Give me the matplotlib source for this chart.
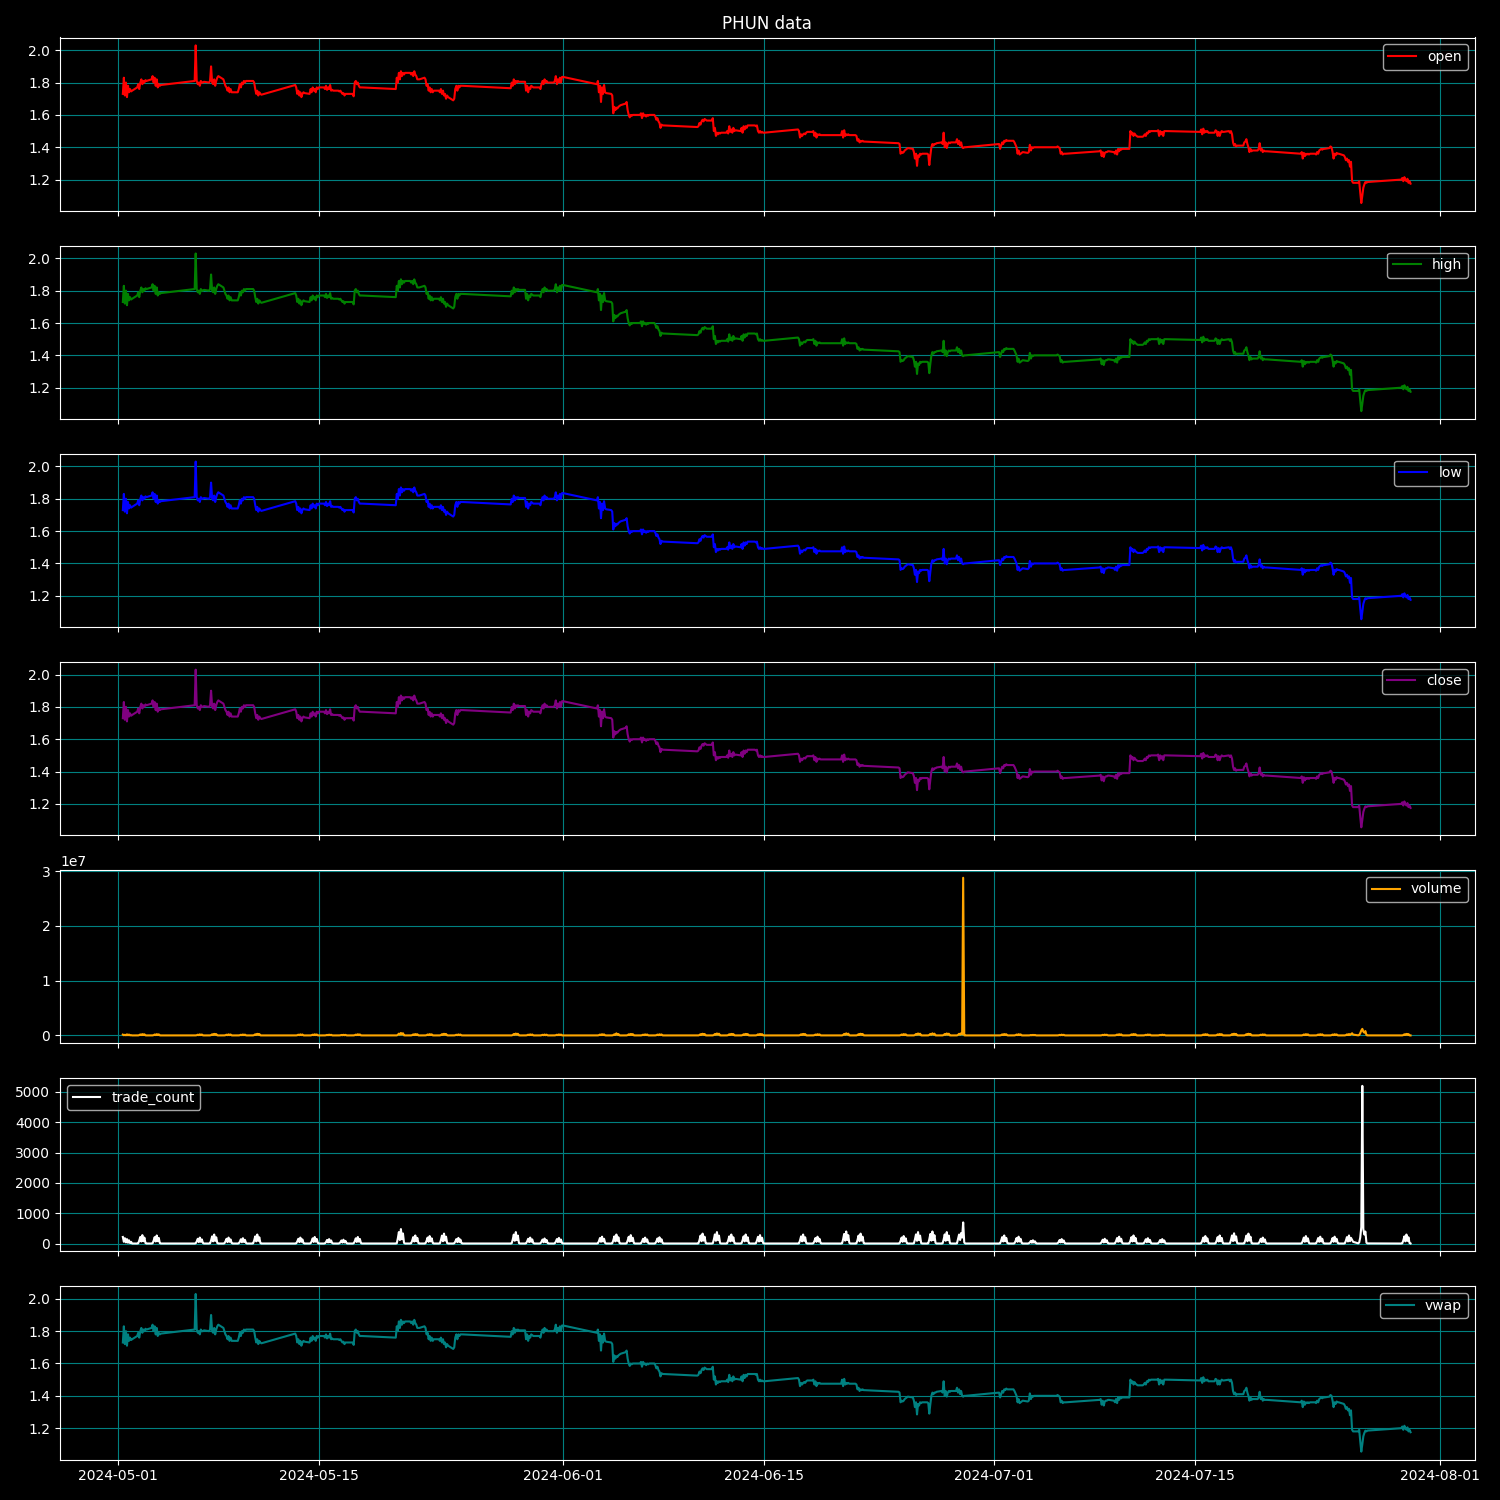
import numpy as np
import pandas as pd
import matplotlib
matplotlib.use("Agg")
import matplotlib.pyplot as plt

TITLE = "PHUN data"

trading_days = [
    "2024-05-01", "2024-05-02", "2024-05-03", "2024-05-06", "2024-05-07", "2024-05-08",
    "2024-05-09", "2024-05-10", "2024-05-13", "2024-05-14", "2024-05-15", "2024-05-16",
    "2024-05-17", "2024-05-20", "2024-05-21", "2024-05-22", "2024-05-23", "2024-05-24",
    "2024-05-28", "2024-05-29", "2024-05-30", "2024-05-31",
    "2024-06-03", "2024-06-04", "2024-06-05", "2024-06-06", "2024-06-07", "2024-06-10",
    "2024-06-11", "2024-06-12", "2024-06-13", "2024-06-14", "2024-06-17", "2024-06-18",
    "2024-06-20", "2024-06-21", "2024-06-24", "2024-06-25", "2024-06-26", "2024-06-27",
    "2024-06-28",
    "2024-07-01", "2024-07-02", "2024-07-03", "2024-07-05", "2024-07-08", "2024-07-09",
    "2024-07-10", "2024-07-11", "2024-07-12", "2024-07-15", "2024-07-16", "2024-07-17",
    "2024-07-18", "2024-07-19", "2024-07-22", "2024-07-23", "2024-07-24", "2024-07-25",
    "2024-07-26", "2024-07-29",
]

# intraday sample times (hours, UTC) of each day's bars
session_hours = [8.0, 9.7, 11.4, 13.2, 14.9, 16.6, 18.3, 20.0, 21.8, 23.5]

# visible x range of the shared date axis
x_range = ["2024-04-26 23:00", "2024-08-03 10:20"]

# price (open/high/low/close/vwap coincide at this scale)
price_by_day = [
    [1.73, 1.83, 1.72, 1.80, 1.71, 1.78, 1.74, 1.76, 1.745, 1.75],
    [1.77, 1.79, 1.76, 1.80, 1.82, 1.79, 1.81, 1.80, 1.815, 1.81],
    [1.82, 1.84, 1.80, 1.83, 1.78, 1.82, 1.77, 1.79, 1.78, 1.785],
    [1.81, 2.03, 1.81, 1.79, 1.80, 1.78, 1.81, 1.80, 1.80, 1.805],
    [1.80, 1.81, 1.90, 1.80, 1.79, 1.82, 1.78, 1.81, 1.83, 1.84],
    [1.82, 1.80, 1.78, 1.77, 1.75, 1.77, 1.74, 1.76, 1.74, 1.74],
    [1.74, 1.76, 1.79, 1.77, 1.80, 1.79, 1.81, 1.80, 1.81, 1.81],
    [1.81, 1.81, 1.80, 1.76, 1.73, 1.75, 1.72, 1.74, 1.73, 1.725],
    [1.785, 1.77, 1.73, 1.75, 1.72, 1.74, 1.71, 1.73, 1.74, 1.735],
    [1.73, 1.76, 1.74, 1.77, 1.75, 1.76, 1.74, 1.77, 1.76, 1.77],
    [1.77, 1.76, 1.78, 1.755, 1.77, 1.76, 1.785, 1.75, 1.755, 1.75],
    [1.75, 1.745, 1.75, 1.74, 1.73, 1.735, 1.72, 1.73, 1.73, 1.73],
    [1.73, 1.715, 1.80, 1.81, 1.79, 1.80, 1.78, 1.77, 1.77, 1.77],
    [1.76, 1.83, 1.80, 1.86, 1.82, 1.87, 1.84, 1.86, 1.85, 1.86],
    [1.86, 1.85, 1.86, 1.84, 1.87, 1.85, 1.84, 1.82, 1.82, 1.82],
    [1.83, 1.82, 1.78, 1.79, 1.75, 1.77, 1.74, 1.76, 1.74, 1.75],
    [1.75, 1.74, 1.76, 1.73, 1.75, 1.72, 1.73, 1.70, 1.72, 1.71],
    [1.69, 1.70, 1.76, 1.78, 1.75, 1.78, 1.77, 1.78, 1.78, 1.78],
    [1.765, 1.80, 1.78, 1.82, 1.79, 1.81, 1.80, 1.81, 1.805, 1.805],
    [1.805, 1.75, 1.78, 1.74, 1.77, 1.76, 1.78, 1.775, 1.77, 1.77],
    [1.77, 1.76, 1.79, 1.81, 1.79, 1.82, 1.80, 1.81, 1.80, 1.80],
    [1.80, 1.81, 1.84, 1.79, 1.82, 1.80, 1.83, 1.80, 1.835, 1.835],
    [1.79, 1.81, 1.74, 1.78, 1.68, 1.77, 1.73, 1.785, 1.74, 1.735],
    [1.73, 1.72, 1.61, 1.65, 1.63, 1.645, 1.64, 1.65, 1.655, 1.66],
    [1.67, 1.68, 1.63, 1.60, 1.585, 1.60, 1.595, 1.60, 1.60, 1.60],
    [1.60, 1.61, 1.58, 1.61, 1.595, 1.60, 1.59, 1.60, 1.595, 1.60],
    [1.60, 1.59, 1.57, 1.58, 1.56, 1.55, 1.52, 1.54, 1.535, 1.535],
    [1.525, 1.53, 1.55, 1.54, 1.56, 1.57, 1.56, 1.575, 1.57, 1.565],
    [1.565, 1.58, 1.50, 1.52, 1.47, 1.49, 1.48, 1.49, 1.485, 1.49],
    [1.49, 1.50, 1.485, 1.53, 1.495, 1.51, 1.49, 1.52, 1.50, 1.505],
    [1.50, 1.52, 1.49, 1.53, 1.51, 1.53, 1.52, 1.535, 1.535, 1.535],
    [1.535, 1.53, 1.535, 1.50, 1.49, 1.50, 1.49, 1.495, 1.49, 1.49],
    [1.51, 1.50, 1.46, 1.48, 1.47, 1.48, 1.485, 1.48, 1.49, 1.495],
    [1.495, 1.50, 1.47, 1.49, 1.46, 1.48, 1.475, 1.48, 1.475, 1.475],
    [1.475, 1.50, 1.46, 1.505, 1.47, 1.48, 1.475, 1.48, 1.475, 1.475],
    [1.475, 1.47, 1.44, 1.45, 1.43, 1.44, 1.435, 1.44, 1.435, 1.435],
    [1.425, 1.42, 1.36, 1.37, 1.365, 1.37, 1.38, 1.385, 1.39, 1.395],
    [1.39, 1.37, 1.33, 1.36, 1.285, 1.35, 1.34, 1.36, 1.355, 1.36],
    [1.36, 1.355, 1.29, 1.35, 1.40, 1.42, 1.41, 1.42, 1.42, 1.425],
    [1.43, 1.42, 1.49, 1.40, 1.43, 1.395, 1.42, 1.43, 1.425, 1.43],
    [1.43, 1.45, 1.42, 1.44, 1.41, 1.43, 1.40, 1.395, 1.40, 1.40],
    [1.42, 1.39, 1.41, 1.43, 1.42, 1.44, 1.435, 1.445, 1.44, 1.44],
    [1.44, 1.43, 1.415, 1.40, 1.36, 1.38, 1.355, 1.36, 1.365, 1.37],
    [1.365, 1.37, 1.415, 1.38, 1.40, 1.395, 1.40, 1.40, 1.40, 1.40],
    [1.40, 1.405, 1.40, 1.395, 1.36, 1.37, 1.355, 1.36, 1.36, 1.36],
    [1.375, 1.38, 1.345, 1.37, 1.34, 1.365, 1.37, 1.37, 1.375, 1.375],
    [1.37, 1.36, 1.38, 1.355, 1.39, 1.375, 1.39, 1.385, 1.39, 1.39],
    [1.39, 1.39, 1.50, 1.48, 1.49, 1.47, 1.485, 1.475, 1.47, 1.465],
    [1.465, 1.47, 1.48, 1.47, 1.49, 1.485, 1.50, 1.495, 1.50, 1.50],
    [1.50, 1.505, 1.47, 1.50, 1.48, 1.495, 1.47, 1.50, 1.50, 1.50],
    [1.495, 1.51, 1.48, 1.515, 1.49, 1.50, 1.495, 1.50, 1.49, 1.49],
    [1.49, 1.505, 1.50, 1.47, 1.495, 1.47, 1.49, 1.50, 1.495, 1.495],
    [1.50, 1.49, 1.50, 1.48, 1.43, 1.41, 1.42, 1.405, 1.41, 1.41],
    [1.41, 1.43, 1.435, 1.45, 1.42, 1.40, 1.37, 1.39, 1.375, 1.38],
    [1.38, 1.39, 1.425, 1.38, 1.39, 1.37, 1.38, 1.375, 1.375, 1.375],
    [1.36, 1.37, 1.33, 1.365, 1.345, 1.36, 1.355, 1.36, 1.355, 1.36],
    [1.36, 1.355, 1.37, 1.36, 1.38, 1.385, 1.39, 1.385, 1.39, 1.39],
    [1.395, 1.405, 1.40, 1.37, 1.33, 1.36, 1.35, 1.365, 1.36, 1.36],
    [1.35, 1.34, 1.32, 1.33, 1.31, 1.32, 1.28, 1.31, 1.19, 1.18],
    [1.18, 1.19, 1.12, 1.055, 1.10, 1.15, 1.17, 1.185, 1.18, 1.185],
    [1.20, 1.21, 1.19, 1.215, 1.20, 1.19, 1.205, 1.18, 1.19, 1.175],
]

open_by_day = price_by_day
high_by_day = price_by_day
low_by_day = price_by_day
close_by_day = price_by_day
vwap_by_day = price_by_day

trade_count_by_day = [
    [220, 60, 180, 40, 150, 30, 110, 20, 60, 5],
    [4, 12, 100, 220, 70, 280, 80, 200, 20, 5],
    [4, 12, 95, 215, 70, 270, 80, 190, 20, 5],
    [4, 12, 70, 160, 50, 200, 60, 140, 20, 5],
    [4, 12, 105, 240, 75, 300, 90, 210, 20, 5],
    [4, 12, 70, 160, 50, 200, 60, 140, 20, 5],
    [4, 12, 60, 145, 45, 180, 55, 125, 20, 5],
    [4, 12, 105, 240, 75, 300, 90, 210, 20, 5],
    [4, 12, 70, 160, 50, 200, 60, 140, 20, 5],
    [4, 12, 75, 175, 55, 220, 65, 155, 20, 5],
    [4, 12, 50, 120, 40, 150, 45, 105, 15, 5],
    [4, 12, 45, 105, 35, 130, 40, 90, 15, 5],
    [4, 12, 75, 175, 55, 220, 65, 155, 20, 5],
    [4, 12, 170, 380, 120, 480, 145, 335, 25, 5],
    [4, 12, 95, 215, 70, 270, 80, 190, 20, 5],
    [4, 12, 90, 200, 60, 250, 75, 175, 20, 5],
    [4, 12, 115, 265, 80, 330, 100, 230, 20, 5],
    [4, 12, 65, 150, 50, 190, 55, 135, 20, 5],
    [4, 12, 130, 300, 95, 380, 115, 265, 20, 5],
    [4, 12, 70, 160, 50, 200, 60, 140, 20, 5],
    [4, 12, 60, 135, 45, 170, 50, 120, 15, 5],
    [4, 12, 65, 150, 50, 190, 55, 135, 20, 5],
    [4, 12, 80, 185, 60, 230, 70, 160, 20, 5],
    [4, 12, 105, 240, 75, 300, 90, 210, 20, 5],
    [4, 12, 100, 225, 70, 280, 85, 195, 20, 5],
    [4, 12, 70, 160, 50, 200, 60, 140, 20, 5],
    [4, 12, 75, 170, 55, 210, 65, 145, 20, 5],
    [4, 12, 115, 265, 80, 330, 100, 230, 20, 5],
    [4, 12, 135, 305, 95, 380, 115, 265, 20, 5],
    [4, 12, 105, 240, 75, 300, 90, 210, 20, 5],
    [4, 12, 105, 240, 75, 300, 90, 210, 20, 5],
    [4, 12, 100, 225, 70, 280, 85, 195, 20, 5],
    [4, 12, 105, 240, 75, 300, 90, 210, 20, 5],
    [4, 12, 80, 185, 60, 230, 70, 160, 20, 5],
    [4, 12, 140, 320, 100, 400, 120, 280, 25, 5],
    [4, 12, 115, 265, 80, 330, 100, 230, 20, 5],
    [4, 12, 90, 200, 60, 250, 75, 175, 20, 5],
    [4, 12, 135, 305, 95, 380, 115, 265, 20, 5],
    [4, 12, 140, 320, 100, 400, 120, 280, 25, 5],
    [4, 12, 135, 305, 95, 380, 115, 265, 20, 5],
    [4, 12, 150, 300, 120, 350, 200, 700, 40, 5],
    [4, 12, 95, 215, 70, 270, 80, 190, 20, 5],
    [4, 12, 80, 185, 60, 230, 70, 160, 20, 5],
    [4, 12, 40, 90, 30, 110, 35, 75, 10, 5],
    [4, 12, 50, 120, 40, 150, 45, 105, 15, 5],
    [4, 12, 55, 130, 40, 160, 50, 110, 15, 5],
    [4, 12, 80, 185, 60, 230, 70, 160, 20, 5],
    [4, 12, 95, 215, 70, 270, 80, 190, 20, 5],
    [4, 12, 65, 145, 45, 180, 55, 125, 20, 5],
    [4, 12, 50, 120, 40, 150, 45, 105, 15, 5],
    [4, 12, 90, 200, 60, 250, 75, 175, 20, 5],
    [4, 12, 95, 215, 70, 270, 80, 190, 20, 5],
    [4, 12, 120, 270, 85, 340, 100, 240, 20, 5],
    [4, 12, 115, 265, 80, 330, 100, 230, 20, 5],
    [4, 12, 70, 160, 50, 200, 60, 140, 20, 5],
    [4, 12, 90, 200, 60, 250, 75, 175, 20, 5],
    [4, 12, 80, 185, 60, 230, 70, 160, 20, 5],
    [4, 12, 80, 185, 60, 230, 70, 160, 20, 5],
    [4, 12, 95, 215, 70, 270, 80, 190, 120, 60],
    [10, 40, 200, 550, 5200, 480, 300, 400, 30, 8],
    [4, 12, 105, 240, 75, 300, 90, 210, 20, 5],
]

# volume in thousands of shares
volume_k_by_day = [
    [150, 40, 120, 30, 200, 40, 160, 20, 50, 5],
    [3, 10, 60, 180, 70, 240, 80, 210, 15, 4],
    [3, 10, 55, 170, 65, 230, 75, 200, 15, 4],
    [3, 10, 45, 140, 55, 190, 60, 170, 15, 4],
    [3, 10, 70, 210, 80, 290, 95, 250, 15, 4],
    [3, 10, 45, 140, 55, 190, 60, 170, 15, 4],
    [3, 10, 40, 130, 50, 170, 55, 150, 15, 4],
    [3, 10, 70, 210, 80, 300, 95, 260, 15, 4],
    [3, 10, 45, 140, 55, 190, 60, 170, 15, 4],
    [3, 10, 50, 150, 60, 200, 65, 180, 15, 4],
    [3, 10, 35, 100, 40, 140, 45, 120, 15, 4],
    [3, 10, 30, 90, 35, 120, 40, 110, 15, 4],
    [3, 10, 50, 150, 60, 210, 65, 180, 15, 4],
    [3, 10, 110, 330, 120, 450, 140, 400, 20, 4],
    [3, 10, 60, 190, 70, 250, 80, 220, 15, 4],
    [3, 10, 55, 170, 65, 230, 75, 200, 15, 4],
    [3, 10, 75, 230, 85, 310, 100, 270, 15, 4],
    [3, 10, 45, 130, 50, 180, 55, 160, 15, 4],
    [3, 10, 85, 260, 95, 350, 110, 310, 15, 4],
    [3, 10, 45, 140, 55, 190, 60, 170, 15, 4],
    [3, 10, 40, 120, 45, 160, 50, 140, 15, 4],
    [3, 10, 45, 130, 50, 180, 55, 160, 15, 4],
    [3, 10, 55, 160, 60, 220, 70, 190, 15, 4],
    [3, 10, 70, 210, 80, 380, 95, 260, 15, 4],
    [3, 10, 65, 200, 75, 270, 85, 240, 15, 4],
    [3, 10, 45, 140, 55, 190, 60, 170, 15, 4],
    [3, 10, 50, 150, 55, 200, 65, 180, 15, 4],
    [3, 10, 75, 230, 85, 310, 100, 270, 15, 4],
    [3, 10, 85, 260, 100, 360, 115, 320, 15, 4],
    [3, 10, 70, 210, 80, 280, 95, 250, 15, 4],
    [3, 10, 70, 210, 80, 280, 95, 250, 15, 4],
    [3, 10, 65, 200, 75, 260, 85, 230, 15, 4],
    [3, 10, 70, 210, 80, 280, 95, 250, 15, 4],
    [3, 10, 55, 160, 60, 220, 70, 190, 15, 4],
    [3, 10, 90, 280, 105, 380, 120, 330, 15, 4],
    [3, 10, 75, 230, 85, 310, 100, 270, 15, 4],
    [3, 10, 60, 170, 65, 240, 75, 210, 15, 4],
    [3, 10, 85, 260, 100, 360, 115, 320, 15, 4],
    [3, 10, 90, 280, 105, 380, 120, 330, 15, 4],
    [3, 10, 85, 260, 100, 360, 115, 320, 15, 4],
    [3, 10, 100, 300, 110, 400, 150, 28800, 20, 4],
    [3, 10, 60, 190, 70, 250, 80, 220, 15, 4],
    [3, 10, 55, 160, 60, 220, 70, 190, 15, 4],
    [3, 10, 25, 80, 30, 100, 35, 90, 10, 4],
    [3, 10, 35, 100, 40, 140, 45, 120, 15, 4],
    [3, 10, 35, 110, 40, 150, 50, 130, 15, 4],
    [3, 10, 55, 160, 60, 220, 70, 190, 15, 4],
    [3, 10, 60, 190, 70, 250, 80, 220, 15, 4],
    [3, 10, 40, 120, 45, 170, 55, 150, 15, 4],
    [3, 10, 35, 100, 40, 140, 45, 120, 15, 4],
    [3, 10, 55, 170, 65, 230, 75, 200, 15, 4],
    [3, 10, 60, 190, 70, 250, 80, 220, 15, 4],
    [3, 10, 75, 240, 90, 320, 100, 280, 15, 4],
    [3, 10, 75, 230, 85, 310, 100, 270, 15, 4],
    [3, 10, 45, 140, 55, 190, 60, 170, 15, 4],
    [3, 10, 55, 170, 65, 230, 75, 200, 15, 4],
    [3, 10, 55, 160, 60, 220, 70, 190, 15, 4],
    [3, 10, 55, 160, 60, 220, 70, 190, 15, 4],
    [3, 10, 60, 190, 70, 250, 80, 220, 400, 150],
    [20, 80, 400, 900, 1200, 700, 500, 800, 60, 10],
    [3, 10, 70, 210, 80, 280, 95, 250, 15, 4],
]


def flatten(by_day):
    return [v for day in by_day for v in day]


timestamps = [pd.Timestamp(d) + pd.Timedelta(hours=h)
              for d in trading_days for h in session_hours]

df = pd.DataFrame({
    "open": flatten(open_by_day),
    "high": flatten(high_by_day),
    "low": flatten(low_by_day),
    "close": flatten(close_by_day),
    "volume": [v * 1000 for v in flatten(volume_k_by_day)],
    "trade_count": flatten(trade_count_by_day),
    "vwap": flatten(vwap_by_day),
}, index=pd.DatetimeIndex(timestamps))

series_cols = ["open", "high", "low", "close", "volume", "trade_count", "vwap"]
series_colors = ["red", "green", "blue", "purple", "orange", "white", "teal"]
legend_locs = ["upper right"] * 5 + ["upper left", "upper right"]

plt.style.use("dark_background")
fig, axes = plt.subplots(7, 1, figsize=(15, 15), dpi=100, sharex=True)
fig.subplots_adjust(left=0.04, right=0.983, top=0.975, bottom=0.027, hspace=0.2)

for ax, col, color, loc in zip(axes, series_cols, series_colors, legend_locs):
    ax.plot(df.index, df[col], color=color, label=col)
    ax.grid(True, color="teal")
    ax.legend(loc=loc)

axes[0].set_xlim(pd.Timestamp(x_range[0]), pd.Timestamp(x_range[1]))
axes[0].set_title(TITLE)

fig.savefig("out.png", dpi=100, facecolor="black")
